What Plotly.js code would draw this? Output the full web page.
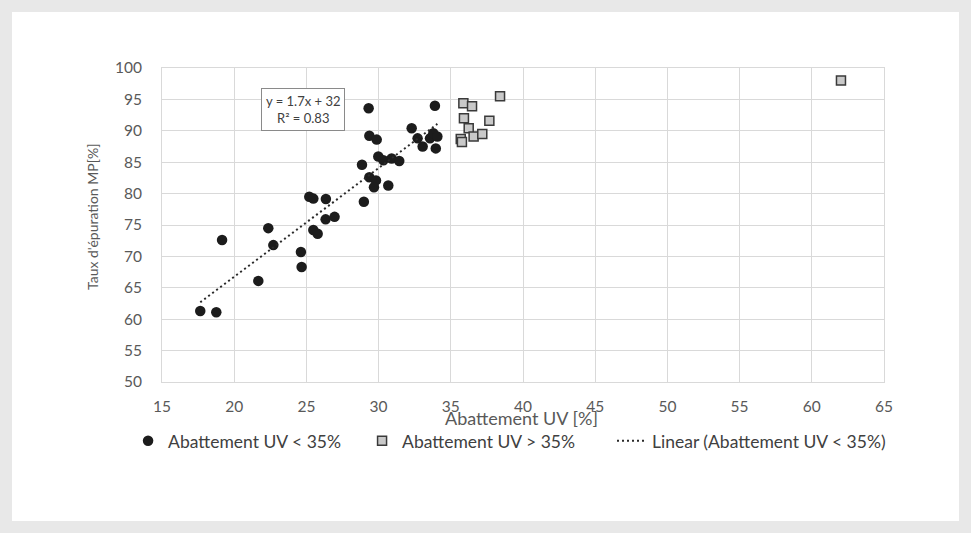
<!DOCTYPE html>
<html>
<head>
<meta charset="utf-8">
<script src="https://cdn.plot.ly/plotly-3.0.1.min.js"></script>
<style>
  html, body { margin: 0; padding: 0; background: #e8e8e8; width: 971px; height: 533px; overflow: hidden; }
  #chart { position: absolute; left: 12px; top: 12px; width: 947px; height: 509px; background: #ffffff; }
</style>
</head>
<body>
<div id="chart"></div>
<script>
// Abattement UV < 35% (circles)
const lowUV_x = [17.65, 18.76, 19.16, 21.67, 22.36, 22.71, 24.62, 24.67, 25.2, 25.48, 26.35, 25.48, 25.78, 26.33, 26.95, 28.98, 28.85, 29.31, 29.36, 29.87, 29.98, 30.33, 30.9, 31.43, 29.36, 29.82, 29.68, 30.67, 32.29, 32.7, 33.05, 33.56, 33.79, 34.07, 33.96, 33.9];
const lowUV_y = [61.3, 61.1, 72.6, 66.1, 74.5, 71.8, 70.7, 68.3, 79.5, 79.2, 79.15, 74.2, 73.6, 75.9, 76.3, 78.7, 84.6, 93.6, 89.2, 88.6, 85.9, 85.3, 85.6, 85.2, 82.6, 82.1, 81.0, 81.3, 90.4, 88.8, 87.5, 88.8, 89.6, 89.1, 87.2, 94.0];
// Abattement UV > 35% (squares)
const highUV_x = [38.41, 35.87, 36.47, 35.91, 37.67, 36.24, 36.58, 37.18, 35.69, 35.77, 62.02];
const highUV_y = [95.5, 94.4, 93.9, 92.0, 91.6, 90.4, 89.1, 89.5, 88.7, 88.2, 98.0];

const seriesNames = ["Abattement UV < 35%", "Abattement UV > 35%", "Linear (Abattement UV < 35%)"];
const equationText = ["y = 1.7x + 32", "R² = 0.83"];
const xTicks = [15, 20, 25, 30, 35, 40, 45, 50, 55, 60, 65];
const yTicks = [50, 55, 60, 65, 70, 75, 80, 85, 90, 95, 100];
const xTitle = "Abattement UV [%]";
const yTitle = "Taux d'épuration MP[%]";

// least-squares linear trend of the < 35% series
function linFit(xs, ys) {
  const n = xs.length;
  let sx = 0, sy = 0, sxx = 0, sxy = 0;
  for (let i = 0; i < n; i++) { sx += xs[i]; sy += ys[i]; sxx += xs[i]*xs[i]; sxy += xs[i]*ys[i]; }
  const m = (n*sxy - sx*sy) / (n*sxx - sx*sx);
  const b = (sy - m*sx) / n;
  return [m, b];
}
const fit = linFit(lowUV_x, lowUV_y);
const xmin = Math.min(...lowUV_x), xmax = Math.max(...lowUV_x);
const trend_x = [xmin, xmax];
const trend_y = trend_x.map(v => fit[0]*v + fit[1]);

const FONT = "Lato, 'Open Sans', sans-serif";

const traces = [
  { x: lowUV_x, y: lowUV_y, type: "scatter", mode: "markers", name: seriesNames[0],
    marker: { symbol: "circle", size: 10.5, color: "#1c1c1c" } },
  { x: highUV_x, y: highUV_y, type: "scatter", mode: "markers", name: seriesNames[1],
    marker: { symbol: "square", size: 9, color: "#c9c9c9", line: { color: "#3a3a3a", width: 1.5 } } },
  { x: trend_x, y: trend_y, type: "scatter", mode: "lines", name: seriesNames[2], legend: "legend2",
    line: { color: "#2a2a2a", width: 2, dash: "2px,3px" } }
];

const legendFont = { family: FONT, size: 17.5, color: "#404040" };

const layout = {
  width: 947, height: 509,
  margin: { l: 150, r: 75, t: 56, b: 139 },
  paper_bgcolor: "#ffffff", plot_bgcolor: "#ffffff",
  font: { family: FONT, color: "#595959", size: 15.5 },
  showlegend: true,
  legend: { orientation: "h", x: -0.047, xanchor: "left", y: -0.13, yanchor: "top",
            entrywidth: 189, entrywidthmode: "pixels",
            font: legendFont, bgcolor: "rgba(0,0,0,0)" },
  legend2: { orientation: "h", x: (612 - 12 - 150) / 722, xanchor: "left", y: -0.13, yanchor: "top",
            font: legendFont, bgcolor: "rgba(0,0,0,0)" },
  xaxis: { range: [15, 65], tickvals: xTicks, ticktext: xTicks.map(String),
           showgrid: true, gridcolor: "#d9d9d9", gridwidth: 1, zeroline: false,
           showline: true, linecolor: "#d9d9d9", mirror: true,
           ticks: "outside", ticklen: 10, tickcolor: "rgba(0,0,0,0)",
           tickfont: { family: FONT, size: 15.5, color: "#595959" } },
  yaxis: { range: [50, 100], tickvals: yTicks, ticktext: yTicks.map(String),
           showgrid: true, gridcolor: "#d9d9d9", gridwidth: 1, zeroline: false,
           showline: true, linecolor: "#d9d9d9", mirror: true,
           ticks: "outside", ticklen: 16, tickcolor: "rgba(0,0,0,0)",
           tickfont: { family: FONT, size: 15.5, color: "#595959" } },
  annotations: [
    { text: equationText.join("<br>"), xref: "paper", yref: "paper",
      x: (302.5 - 162) / 722, y: 1 - (110 - 68.3) / 313.4, xanchor: "center", yanchor: "middle",
      showarrow: false, align: "center", font: { family: FONT, size: 13, color: "#404040" },
      bordercolor: "#8a8a8a", borderwidth: 1, bgcolor: "#ffffff", borderpad: 4 },
    { text: xTitle, xref: "paper", yref: "paper", x: (521 - 162) / 722, y: -(418 - 381.7) / 313.4,
      xanchor: "center", yanchor: "middle", showarrow: false,
      font: { family: FONT, size: 18, color: "#595959" } },
    { text: yTitle, xref: "paper", yref: "paper", x: -(162 - 93) / 722, y: 1 - (217 - 68.3) / 313.4,
      xanchor: "center", yanchor: "middle", showarrow: false, textangle: -90,
      font: { family: FONT, size: 14, color: "#595959" } }
  ]
};

Plotly.newPlot("chart", traces, layout, { displayModeBar: false, staticPlot: true });
</script>
</body>
</html>
